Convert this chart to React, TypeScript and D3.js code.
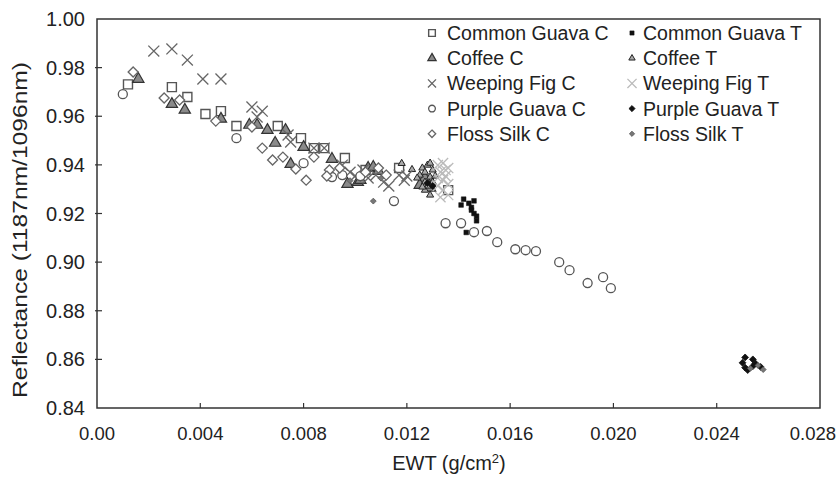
import React from 'react';
import * as d3 from 'd3';

// [EWT, reflectance] pairs
const commonGuavaC: [number, number][] = [
  [0.0012, 0.9731], [0.0029, 0.972], [0.0035, 0.9679], [0.0042, 0.9609], [0.0048, 0.9621],
  [0.0054, 0.956], [0.007, 0.956], [0.0079, 0.951], [0.0084, 0.9469], [0.0088, 0.9469],
  [0.0096, 0.9428], [0.0104, 0.9379], [0.0117, 0.9387], [0.0136, 0.9296],
];
const commonGuavaT: [number, number][] = [
  [0.0142, 0.9259], [0.0141, 0.9235], [0.0144, 0.9242], [0.0146, 0.9252], [0.0145, 0.9225],
  [0.0145, 0.9214], [0.0146, 0.92], [0.0147, 0.9189], [0.0147, 0.917], [0.0143, 0.9122],
];
const coffeeC: [number, number][] = [
  [0.0016, 0.9753], [0.0029, 0.965], [0.0034, 0.9626], [0.0048, 0.9589], [0.0059, 0.9564],
  [0.0062, 0.9564], [0.0066, 0.9543], [0.0073, 0.9543], [0.0069, 0.949], [0.008, 0.9473],
  [0.0075, 0.9403], [0.0091, 0.9424], [0.0097, 0.9321], [0.0101, 0.9329], [0.0105, 0.9387],
  [0.0107, 0.9391], [0.0109, 0.9374], [0.0102, 0.9337], [0.0127, 0.9346], [0.0129, 0.9305],
  [0.0125, 0.9317],
];
const coffeeT: [number, number][] = [
  [0.0118, 0.9406], [0.0122, 0.9381], [0.0125, 0.9358], [0.0126, 0.9387], [0.0128, 0.9399],
  [0.0129, 0.9407], [0.0127, 0.937], [0.0129, 0.935], [0.013, 0.9379], [0.0127, 0.9329],
  [0.0128, 0.9313], [0.013, 0.9329], [0.0127, 0.9296], [0.0129, 0.9276], [0.0126, 0.9309],
  [0.0124, 0.9346], [0.0131, 0.9354],
];
const weepingFigC: [number, number][] = [
  [0.0022, 0.9868], [0.0029, 0.9877], [0.0035, 0.9831], [0.0041, 0.9753], [0.0048, 0.9753],
  [0.006, 0.9638], [0.0064, 0.9621], [0.0062, 0.9597], [0.0074, 0.9523], [0.0075, 0.9494],
  [0.0084, 0.9469], [0.0088, 0.9469], [0.0095, 0.9399], [0.0098, 0.937], [0.01, 0.9354],
  [0.0103, 0.9379], [0.0105, 0.9346], [0.0108, 0.9358], [0.0111, 0.9329], [0.0113, 0.9313],
  [0.0117, 0.9358], [0.0119, 0.9337], [0.012, 0.9354],
];
const weepingFigT: [number, number][] = [
  [0.0132, 0.9399], [0.0134, 0.9407], [0.0136, 0.9387], [0.0133, 0.937], [0.0135, 0.9354],
  [0.0134, 0.9337], [0.0136, 0.9321], [0.0132, 0.9313], [0.0134, 0.9296], [0.0136, 0.9276],
  [0.0133, 0.9267], [0.0135, 0.9379], [0.0132, 0.9346],
];
const purpleGuavaC: [number, number][] = [
  [0.001, 0.9691], [0.0054, 0.951], [0.008, 0.9407], [0.0091, 0.935], [0.0095, 0.9358],
  [0.0102, 0.9354], [0.0115, 0.9251], [0.0135, 0.916], [0.0141, 0.916], [0.0146, 0.9123],
  [0.0151, 0.9128], [0.0155, 0.9082], [0.0162, 0.9053], [0.0166, 0.9049], [0.017, 0.9045],
  [0.0179, 0.9], [0.0183, 0.8967], [0.019, 0.8914], [0.0196, 0.8938], [0.0199, 0.8893],
];
const purpleGuavaT: [number, number][] = [
  [0.0251, 0.8608], [0.025, 0.8586], [0.0254, 0.86], [0.0255, 0.8583], [0.0257, 0.8569],
  [0.0252, 0.8556], [0.0251, 0.8566], [0.0254, 0.8572], [0.0128, 0.9325], [0.013, 0.9313],
];
const flossSilkC: [number, number][] = [
  [0.0014, 0.9782], [0.0026, 0.9675], [0.0032, 0.9667], [0.0046, 0.958], [0.006, 0.9556],
  [0.0064, 0.9469], [0.0068, 0.942], [0.0072, 0.9432], [0.0084, 0.9432], [0.0077, 0.9383],
  [0.0081, 0.9337], [0.009, 0.9379], [0.0089, 0.9354], [0.0094, 0.9387], [0.0104, 0.937],
  [0.0109, 0.9387], [0.0112, 0.9358],
];
const flossSilkT: [number, number][] = [
  [0.0107, 0.9251], [0.0098, 0.9335], [0.011, 0.9345], [0.0258, 0.8558], [0.0256, 0.8575],
  [0.0253, 0.8563],
];

const xTicks = [0, 0.004, 0.008, 0.012, 0.016, 0.02, 0.024, 0.028];
const xTickLabels = ['0.00', '0.004', '0.008', '0.012', '0.016', '0.020', '0.024', '0.028'];
const yTicks = [0.84, 0.86, 0.88, 0.9, 0.92, 0.94, 0.96, 0.98, 1.0];

const W = 838;
const H = 479;
const margin = { top: 19, right: 18, bottom: 71, left: 97 };
const font = 'Liberation Sans, Arial, sans-serif';

type Series = {
  name: string;
  data: [number, number][];
  shape: d3.SymbolType;
  size: number;
  fill: string;
  stroke: string;
  sw: number;
};

const series: Series[] = [
  { name: 'Common Guava C', data: commonGuavaC, shape: d3.symbolSquare, size: 81, fill: 'white', stroke: '#555', sw: 1.4 },
  { name: 'Common Guava T', data: commonGuavaT, shape: d3.symbolSquare, size: 22, fill: '#111', stroke: '#111', sw: 0.5 },
  { name: 'Coffee C', data: coffeeC, shape: d3.symbolTriangle, size: 55, fill: '#8a8a8a', stroke: '#333', sw: 1.2 },
  { name: 'Coffee T', data: coffeeT, shape: d3.symbolTriangle, size: 22, fill: '#aaa', stroke: '#222', sw: 1 },
  { name: 'Weeping Fig C', data: weepingFigC, shape: d3.symbolTimes, size: 80, fill: 'none', stroke: '#666', sw: 1.3 },
  { name: 'Weeping Fig T', data: weepingFigT, shape: d3.symbolTimes, size: 70, fill: 'none', stroke: '#bbb', sw: 1.3 },
  { name: 'Purple Guava C', data: purpleGuavaC, shape: d3.symbolCircle, size: 64, fill: 'white', stroke: '#555', sw: 1.3 },
  { name: 'Purple Guava T', data: purpleGuavaT, shape: d3.symbolDiamond2, size: 30, fill: '#111', stroke: '#111', sw: 0.8 },
  { name: 'Floss Silk C', data: flossSilkC, shape: d3.symbolDiamond2, size: 64, fill: 'white', stroke: '#666', sw: 1.3 },
  { name: 'Floss Silk T', data: flossSilkT, shape: d3.symbolDiamond2, size: 22, fill: '#777', stroke: '#555', sw: 0.8 },
];

export default function App() {
  const x = d3.scaleLinear().domain([0, 0.028]).range([margin.left, W - margin.right]);
  const y = d3.scaleLinear().domain([0.84, 1.0]).range([H - margin.bottom, margin.top]);
  const sym = (s: Series) => d3.symbol().type(s.shape).size(s.size)() as string;

  // legend: C series in left column, T series in right column
  const legendRow = (i: number) => 33 + Math.floor(i / 2) * 25.2;
  const legendCol = (i: number) => (i % 2 === 0 ? 432 : 632);
  const tickFont = 18.5;

  return (
    <svg width={W} height={H} style={{ position: 'absolute', left: 0, top: 0 }} fontFamily={font}>
      <rect x={0} y={0} width={W} height={H} fill="white" />
      <rect
        x={x(0)} y={y(1)} width={x(0.028) - x(0)} height={y(0.84) - y(1)}
        fill="none" stroke="#333" strokeWidth={1.5}
      />
      {xTicks.slice(1, -1).map((t) => (
        <line key={'xt' + t} x1={x(t)} x2={x(t)} y1={y(0.84)} y2={y(0.84) - 5} stroke="#333" strokeWidth={1.2} />
      ))}
      {yTicks.slice(1, -1).map((t) => (
        <line key={'yt' + t} x1={x(0) - 2} x2={x(0) + 5} y1={y(t)} y2={y(t)} stroke="#333" strokeWidth={1.2} />
      ))}
      {xTicks.map((t, i) => {
        // half width of the label, so the last one stays inside the page
        const half = ((xTickLabels[i].length - 1) * 0.556 + 0.278) * tickFont / 2;
        return (
          <text
            key={'xl' + t} x={Math.min(x(t), W - 2 - half)} y={y(0.84) + 32}
            textAnchor="middle" fontSize={tickFont} fill="#222"
          >
            {xTickLabels[i]}
          </text>
        );
      })}
      {yTicks.map((t) => (
        <text key={'yl' + t} x={85} y={y(t) + 7} textAnchor="end" fontSize={20} fill="#222">
          {d3.format('.2f')(t)}
        </text>
      ))}
      <text x={449} y={470} textAnchor="middle" fontSize={20} fill="#222">
        EWT (g/cm<tspan dy={-7} fontSize={13}>2</tspan><tspan dy={7}>)</tspan>
      </text>
      <text
        transform={`translate(27, 230) rotate(-90)`}
        textAnchor="middle" fontSize={20} fill="#222"
        textLength={336} lengthAdjust="spacingAndGlyphs"
      >
        Reflectance (1187nm/1096nm)
      </text>

      {series.map((s) => (
        <g key={s.name}>
          {s.data.map((d, i) => (
            <path
              key={i}
              d={sym(s)}
              transform={`translate(${x(d[0])},${y(d[1])})`}
              fill={s.fill}
              stroke={s.stroke}
              strokeWidth={s.sw}
            />
          ))}
        </g>
      ))}

      {series.map((s, i) => (
        <g key={'lg' + s.name} transform={`translate(${legendCol(i)},${legendRow(i)})`}>
          <path
            d={d3.symbol().type(s.shape).size(i % 2 === 0 ? s.size * 0.55 : s.size * 0.8)() as string}
            fill={s.fill} stroke={s.stroke} strokeWidth={s.sw}
          />
          <text x={i % 2 === 0 ? 15 : 11} y={7} fontSize={19.5} fill="#222">{s.name}</text>
        </g>
      ))}
    </svg>
  );
}
